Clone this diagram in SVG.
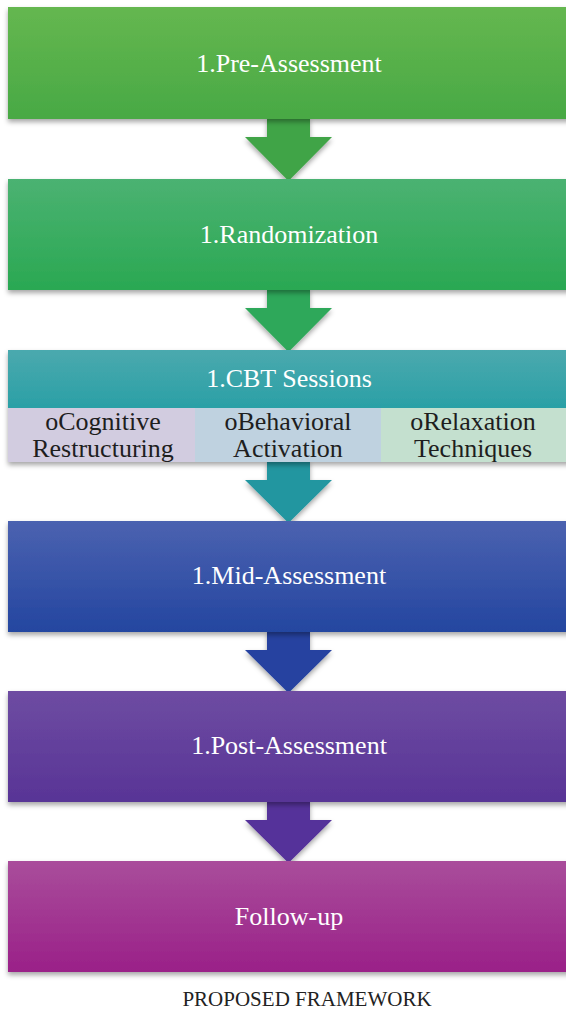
<svg xmlns="http://www.w3.org/2000/svg" width="566" height="1009" viewBox="0 0 566 1009">
  <defs>
    <filter id="shadow" x="-5%" y="-10%" width="115%" height="130%">
      <feDropShadow dx="0" dy="3" stdDeviation="2.5" flood-color="#000" flood-opacity="0.35"/>
    </filter>
    <linearGradient id="g1" x1="0" y1="0" x2="0" y2="1"><stop offset="0" stop-color="#65b750"/><stop offset="1" stop-color="#48a944"/></linearGradient>
    <linearGradient id="g2" x1="0" y1="0" x2="0" y2="1"><stop offset="0" stop-color="#4bb272"/><stop offset="1" stop-color="#2aa852"/></linearGradient>
    <linearGradient id="g3" x1="0" y1="0" x2="0" y2="1"><stop offset="0" stop-color="#4ba9ae"/><stop offset="1" stop-color="#2aa0a6"/></linearGradient>
    <linearGradient id="g4" x1="0" y1="0" x2="0" y2="1"><stop offset="0" stop-color="#4b62b0"/><stop offset="1" stop-color="#2446a0"/></linearGradient>
    <linearGradient id="g5" x1="0" y1="0" x2="0" y2="1"><stop offset="0" stop-color="#6e4ca2"/><stop offset="1" stop-color="#583496"/></linearGradient>
    <linearGradient id="g6" x1="0" y1="0" x2="0" y2="1"><stop offset="0" stop-color="#a94d9b"/><stop offset="1" stop-color="#9a2088"/></linearGradient>
  </defs>
  <style>
    .label { font-family: "Liberation Serif", "Times New Roman", serif; font-size: 26px; fill: #ffffff; text-anchor: middle; }
    .sub { font-family: "Liberation Serif", "Times New Roman", serif; font-size: 26px; fill: #1e1e1e; text-anchor: middle; }
    .caption { font-family: "Liberation Serif", "Times New Roman", serif; font-size: 21px; fill: #222222; text-anchor: middle; }
  </style>
  <rect width="566" height="1009" fill="#ffffff"/>

  <!-- downward block arrows between stages -->
  <g id="connectors" filter="url(#shadow)">
    <path d="M267,117 H310 V137 H332 L288.5,181 L245,137 H267 Z" fill="#3fa447"/>
    <path d="M267,288 H310 V308 H332 L288.5,352 L245,308 H267 Z" fill="#2ea85a"/>
    <path d="M267,460 H310 V480 H332 L288.5,523 L245,480 H267 Z" fill="#2196a0"/>
    <path d="M267,630 H310 V650 H332 L288.5,693 L245,650 H267 Z" fill="#2542a0"/>
    <path d="M267,800 H310 V820 H332 L288.5,863 L245,820 H267 Z" fill="#55309a"/>
  </g>

  <g id="pre-assessment">
    <rect x="8" y="7" width="570" height="112" fill="url(#g1)" filter="url(#shadow)"/>
    <text class="label" x="289" y="72">1.Pre-Assessment</text>
  </g>

  <g id="randomization">
    <rect x="8" y="179" width="570" height="111" fill="url(#g2)" filter="url(#shadow)"/>
    <text class="label" x="289" y="243">1.Randomization</text>
  </g>

  <g id="cbt-sessions">
    <g filter="url(#shadow)">
      <rect x="8" y="350" width="570" height="58" fill="url(#g3)"/>
      <rect x="8" y="408" width="187" height="54" fill="#d2cce0"/>
      <rect x="195" y="408" width="186" height="54" fill="#bfd2e0"/>
      <rect x="381" y="408" width="197" height="54" fill="#c4e0cf"/>
    </g>
    <text class="label" x="289" y="387">1.CBT Sessions</text>
    <text class="sub" x="103" y="430">oCognitive</text>
    <text class="sub" x="103" y="457">Restructuring</text>
    <text class="sub" x="288" y="430">oBehavioral</text>
    <text class="sub" x="288" y="457">Activation</text>
    <text class="sub" x="473" y="430">oRelaxation</text>
    <text class="sub" x="473" y="457">Techniques</text>
  </g>

  <g id="mid-assessment">
    <rect x="8" y="521" width="570" height="111" fill="url(#g4)" filter="url(#shadow)"/>
    <text class="label" x="289" y="584">1.Mid-Assessment</text>
  </g>

  <g id="post-assessment">
    <rect x="8" y="691" width="570" height="111" fill="url(#g5)" filter="url(#shadow)"/>
    <text class="label" x="289" y="754">1.Post-Assessment</text>
  </g>

  <g id="follow-up">
    <rect x="8" y="861" width="570" height="111" fill="url(#g6)" filter="url(#shadow)"/>
    <text class="label" x="289" y="925">Follow-up</text>
  </g>

  <text class="caption" x="307" y="1006">PROPOSED FRAMEWORK</text>
</svg>
